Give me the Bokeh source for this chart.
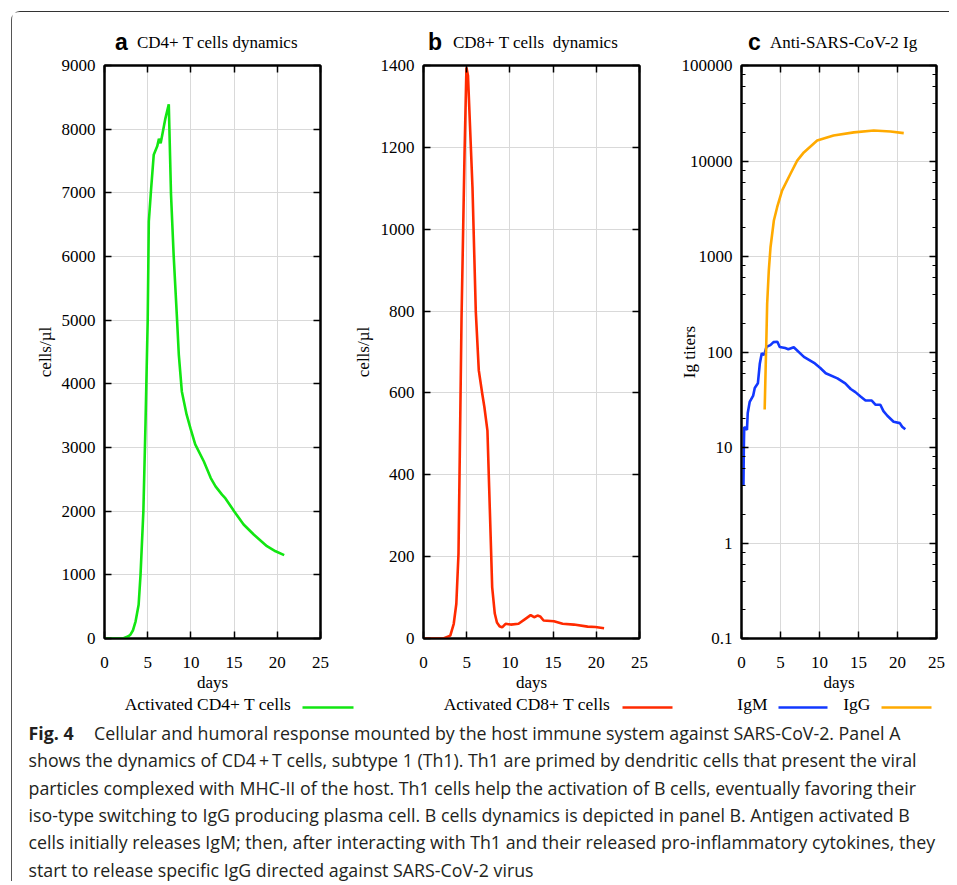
from bokeh.plotting import figure
from bokeh.layouts import row, column
from bokeh.models import (LinearAxis, LogAxis, Label, Range1d, SingleIntervalTicker,
                          LogTicker, BasicTickFormatter)
from bokeh.embed import file_html
from bokeh.resources import INLINE

# ---------------- data ----------------
cd4_days = [0, 1.0, 2.2, 2.7, 3.0, 3.3, 3.6, 3.95, 4.17, 4.5, 4.75, 5.0, 5.13, 5.4, 5.7, 6.1,
            6.3, 6.5, 6.7, 7.05, 7.44, 7.7, 8.0, 8.4, 8.6, 8.95, 9.5, 9.95, 10.5, 11.5, 12.3,
            12.85, 13.6, 14.0, 15.0, 16.1, 17.3, 18.8, 19.8, 20.8]
cd4_vals = [0, 0, 5, 30, 60, 130, 270, 530, 1000, 2000, 3400, 5000, 6550, 7070, 7600, 7730,
            7850, 7780, 7920, 8170, 8390, 6970, 6030, 5000, 4460, 3880, 3520, 3300, 3050, 2780,
            2520, 2390, 2260, 2200, 2000, 1790, 1630, 1450, 1370, 1310]

cd8_days = [0, 1.0, 2.3, 3.1, 3.5, 3.8, 4.05, 4.2, 4.4, 4.75, 4.97, 5.15, 5.67, 6.05, 6.4, 6.8,
            7.05, 7.4, 7.6, 7.95, 8.25, 8.5, 8.8, 9.1, 9.5, 10.1, 11.0, 11.8, 12.4, 12.8, 13.2,
            13.5, 13.9, 15.1, 16.1, 17.4, 19.0, 19.9, 20.9]
cd8_vals = [0, 0, 0, 7, 36, 85, 207, 450, 780, 1185, 1395, 1375, 1102, 800, 655, 598,
            565, 508, 369, 125, 61, 39, 30, 27, 36, 34, 36, 48, 57, 52, 56,
            54, 44, 42, 36, 34, 29, 28, 25]

igm_days = [0.25, 0.3, 0.35, 0.5, 0.7, 0.8, 1.05, 1.5, 1.7, 2.1, 2.35, 2.6, 2.9, 3.2, 3.7, 4.1,
            4.6, 4.9, 5.6, 6.0, 6.7, 8.0, 9.3, 10.1, 10.8, 12.3, 13.3, 14.0, 14.6, 15.3, 15.9,
            16.7, 17.2, 17.8, 18.2, 18.7, 19.5, 20.3, 20.6, 21.0]
igm_vals = [4.0, 10, 16.4, 16, 15.3, 23, 30, 35, 42, 47, 76, 97, 93, 113, 118, 127,
            128, 113, 110, 107, 112, 89, 77, 68, 60, 53, 47, 41, 38, 34, 31,
            31, 28, 28, 24, 21.5, 18.6, 18, 16.5, 15.5]

igg_days = [2.97, 3.1, 3.2, 3.29, 3.5, 3.72, 4.15, 4.57, 5.2, 6.28, 7.14, 7.99, 9.7, 11.8,
            14.4, 16.96, 19.1, 20.8]
igg_vals = [25, 70, 150, 320, 713, 1250, 2380, 3280, 4900, 7350, 10100, 12300, 16400, 18500,
            19950, 20900, 20400, 19600]

x_ticks_step = 5
x_max = 25

titles = [("a", "CD4+ T cells dynamics"), ("b", "CD8+ T cells\u00a0 dynamics"), ("c", "Anti-SARS-CoV-2 Ig")]
legend_names = ["Activated CD4+ T cells", "Activated CD8+ T cells", "IgM", "IgG"]
caption_bold = "Fig. 4"
caption_lines = [
    "Cellular and humoral response mounted by the host immune system against SARS-CoV-2. Panel A",
    "shows the dynamics of CD4\u2009+\u2009T cells, subtype 1 (Th1). Th1 are primed by dendritic cells that present the viral",
    "particles complexed with MHC-II of the host. Th1 cells help the activation of B cells, eventually favoring their",
    "iso-type switching to IgG producing plasma cell. B cells dynamics is depicted in panel B. Antigen activated B",
    "cells initially releases IgM; then, after interacting with Th1 and their released pro-inflammatory cytokines, they",
    "start to release specific IgG directed against SARS-CoV-2 virus",
]

GREEN = "#12e612"
RED = "#ff2a00"
BLUE = "#1238ff"
ORANGE = "#ffaa00"

SERIF = "Liberation Serif"
SANS = "Liberation Sans"
CAPF = "Open Sans"
PH = 638
TOTAL_W = 937
YOFF = -6  # label baseline correction


def style_axis(ax, labels=True, minor=False):
    ax.major_tick_in = 7
    ax.major_tick_out = 0
    ax.minor_tick_out = 0
    ax.minor_tick_in = 4 if minor else 0
    ax.minor_tick_line_color = "black" if minor else None
    ax.axis_line_width = 2
    ax.axis_line_color = "black"
    ax.major_tick_line_width = 1.5
    ax.major_tick_line_color = "black"
    ax.major_label_text_font = SERIF
    if labels:
        ax.major_label_text_color = "black"
        ax.major_label_text_font_size = "17px"
    else:
        ax.major_label_text_color = None
        ax.major_label_text_font_size = "1px"
        ax.major_label_standoff = 0
    ax.axis_label_text_font = SERIF
    ax.axis_label_text_font_size = "17px"
    ax.axis_label_text_font_style = "normal"
    ax.axis_label_text_color = "black"


def make_panel(width, left, right, y_start, y_end, y_interval, ylabel, label_standoff, log=False):
    p = figure(width=width, height=PH, x_range=Range1d(0, x_max),
               y_range=Range1d(y_start, y_end),
               y_axis_type="log" if log else "linear",
               toolbar_location=None, output_backend="svg",
               min_border_left=left, min_border_right=right,
               min_border_top=8, min_border_bottom=57)
    p.outline_line_color = "black"
    p.outline_line_width = 2
    xt = SingleIntervalTicker(interval=x_ticks_step, num_minor_ticks=0)
    if log:
        yt = LogTicker(desired_num_ticks=7)
    else:
        yt = SingleIntervalTicker(interval=y_interval, num_minor_ticks=0)
    xa = p.xaxis[0]
    xa.ticker = xt
    xa.axis_label = "days"
    style_axis(xa)
    xa.major_label_standoff = 18
    xa.axis_label_standoff = 2
    ya = p.yaxis[0]
    ya.ticker = yt
    ya.axis_label = ylabel
    if log:
        ya.formatter = BasicTickFormatter(use_scientific=False)
    style_axis(ya, minor=log)
    ya.major_label_standoff = 9
    ya.axis_label_standoff = label_standoff
    top = LinearAxis(ticker=xt)
    style_axis(top, labels=False)
    p.add_layout(top, "above")
    if log:
        ra = LogAxis(ticker=LogTicker(desired_num_ticks=7))
    else:
        ra = LinearAxis(ticker=yt)
    style_axis(ra, labels=False, minor=log)
    p.add_layout(ra, "right")
    p.xgrid.ticker = xt
    p.ygrid.ticker = yt
    p.xgrid.grid_line_color = "#d9d9d9"
    p.ygrid.grid_line_color = "#d9d9d9"
    p.xgrid.grid_line_width = 1
    p.ygrid.grid_line_width = 1
    return p


def pixel_figure(w, h):
    f = figure(width=w, height=h, x_range=Range1d(0, w), y_range=Range1d(h, 0),
               toolbar_location=None, output_backend="svg", min_border=0,
               x_axis_location=None, y_axis_location=None)
    f.grid.visible = False
    f.outline_line_color = None
    return f


# ---------------- title strip ----------------
TH = 45
ptitle = pixel_figure(TOTAL_W, TH)
letter_x = [102.5, 415.5, 735.5]
text_x = [124.5, 440.5, 757.5]
for (letter, text), lx, tx in zip(titles, letter_x, text_x):
    ptitle.add_layout(Label(x=lx, y=35.5 + YOFF, text=letter, text_font=SANS,
                            text_font_style="bold", text_font_size="23px",
                            text_baseline="alphabetic", text_color="black"))
    ptitle.add_layout(Label(x=tx, y=35.5 + YOFF, text=text, text_font=SERIF,
                            text_font_size="17px", text_baseline="alphabetic",
                            text_color="black"))

# ---------------- panels ----------------
pa = make_panel(328, 92, 20, 0, 9000, 1000, "cells/\u00b5l", 4)
pa.line(cd4_days, cd4_vals, line_color=GREEN, line_width=2.6)

pb = make_panel(320, 83, 21, 0, 1400, 200, "cells/\u00b5l", 5)
pb.line(cd8_days, cd8_vals, line_color=RED, line_width=2.6)

pc = make_panel(289, 81, 13, 0.1, 100000, None, "Ig titers", -20, log=True)
pc.line(igm_days, igm_vals, line_color=BLUE, line_width=2.6)
pc.line(igg_days, igg_vals, line_color=ORANGE, line_width=2.6)

# ---------------- legend + caption ----------------
CH = 186
cap = pixel_figure(TOTAL_W, CH)

leg_text_right = [279, 598, 755, 858]
leg_line_x0 = [290, 610, 766, 869]
leg_line_x1 = [341, 660, 815, 919]
leg_colors = [GREEN, RED, BLUE, ORANGE]
cap.segment(x0=leg_line_x0, y0=[12] * 4, x1=leg_line_x1, y1=[12] * 4,
            line_color=leg_colors, line_width=2.6)
for name, xr in zip(legend_names, leg_text_right):
    cap.add_layout(Label(x=xr, y=14.5 + YOFF, text=name, text_align="right",
                         text_baseline="alphabetic", text_font=SERIF,
                         text_font_size="17.5px", text_color="black"))

base = [43.5 + 27.3 * i for i in range(6)]
cap.add_layout(Label(x=16, y=base[0] + YOFF, text=caption_bold, text_font=CAPF,
                     text_font_style="bold", text_font_size="17.8px",
                     text_baseline="alphabetic", text_color="#231f20"))
for i, line in enumerate(caption_lines):
    cap.add_layout(Label(x=81.5 if i == 0 else 16, y=base[i] + YOFF, text=line, text_font=CAPF,
                         text_font_size="17.8px", text_baseline="alphabetic",
                         text_color="#231f20"))

layout = column(ptitle, row(pa, pb, pc), cap, margin=(11, 0, 0, 11),
                styles={"border-top": "1.5px solid #333", "border-left": "1.5px solid #555",
                        "border-top-left-radius": "9px"})

open("out.html", "w").write(file_html(layout, INLINE))
